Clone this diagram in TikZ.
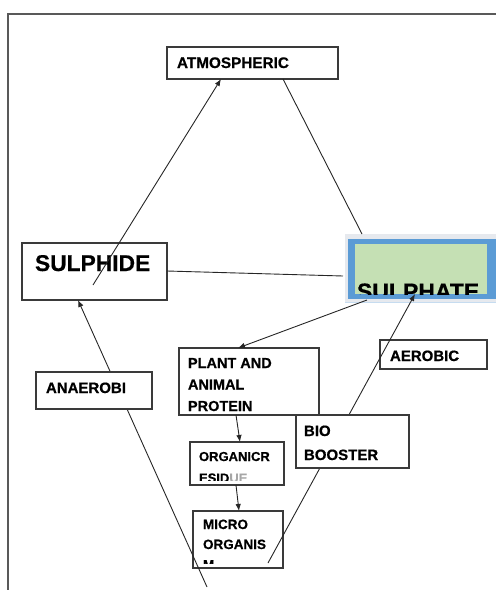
\documentclass[tikz,border=0pt]{standalone}
\usepackage{fontspec}
\setmainfont{Liberation Sans}[BoldFeatures={FakeBold=0.6}]
\usetikzlibrary{arrows.meta}
\definecolor{sblue}{HTML}{5B9BD5}
\definecolor{sgreen}{HTML}{C5E0B4}
\definecolor{sshade}{HTML}{E6E9EE}
\definecolor{boxline}{HTML}{3A3A3A}
\tikzset{
  box/.style={draw=boxline, line width=1.2pt, fill=white, anchor=north west, inner sep=0pt, outer sep=0pt},
  lbl/.style={anchor=base west, inner sep=0pt, outer sep=0pt},
  conn/.style={line width=0.9pt, draw=black!85},
  arr/.style={conn, -{Latex[length=7pt,width=5.5pt]}},
  frameline/.style={line width=1.1pt, draw=black!65}
}
\newcommand{\fs}[1]{\fontsize{#1}{#1}\selectfont\bfseries}
\begin{document}
\begin{tikzpicture}[x=1pt,y=-1pt]
\useasboundingbox (0,0) rectangle (496,590);
% outer frame
\draw[frameline] (496,14) -- (8,14) -- (8,590);

% ATMOSPHERIC
\node[box, minimum width=171pt, minimum height=32pt] (atmo) at (167,47) {};
\node[lbl, font=\fs{15.3}] (atmoT) at (177,68) {ATMOSPHERIC};

% SULPHIDE
\node[box, fill=none, minimum width=145pt, minimum height=57pt] (sulphide) at (22,243) {};
\node[lbl, font=\fs{22.8}] (sulphideT) at (35,271) {SULPHIDE};

% SULPHATE
\node[anchor=north west, fill=sshade, inner sep=0pt, minimum width=151pt, minimum height=69pt] (sulshade) at (345,234) {};
\node[anchor=north west, fill=sblue, inner sep=0pt, minimum width=149pt, minimum height=60pt] (sulphate) at (348,239) {};
\node[anchor=north west, fill=sgreen, inner sep=0pt, minimum width=132pt, minimum height=50pt] (sulgreen) at (355,244) {};
\begin{scope}
  \clip (355,244) rectangle (487,294);
  \node[lbl, font=\fs{23}] (sulphateT) at (357,299.5) {SULPHATE};
\end{scope}
\draw[line width=1pt, draw=sblue!35] (345,302) -- (496,302);

% PLANT AND ANIMAL PROTEIN
\node[box, minimum width=140pt, minimum height=67pt] (plant) at (179,348) {};
\node[lbl, font=\fs{14.5}] (plantA) at (188,368) {PLANT AND};
\node[lbl, font=\fs{14.5}] (plantB) at (188,389.5) {ANIMAL};
\node[lbl, font=\fs{14.5}] (plantC) at (188,411) {PROTEIN};

% AEROBIC
\node[box, fill=none, minimum width=107pt, minimum height=29pt] (aerobic) at (380,340) {};
\node[lbl, font=\fs{15}] (aerobicT) at (390,361) {AEROBIC};

% ORGANIC RESIDUE
\node[box, minimum width=94pt, minimum height=43pt] (organic) at (190,442) {};
\node[lbl, font=\fs{13}] (organicA) at (199,461) {ORGANICR};
\begin{scope}
  \clip (190,442) rectangle (284,480);
  \node[lbl, font=\fs{13}] (organicB) at (199,482.5) {ESID\textcolor{black!35}{UE}};
\end{scope}

% MICRO ORGANISM
\node[box, fill=none, minimum width=90pt, minimum height=57pt] (micro) at (193,511) {};
\node[lbl, font=\fs{13.5}] (microA) at (203,529) {MICRO};
\node[lbl, font=\fs{13.5}] (microB) at (203,549) {ORGANIS};
\begin{scope}
  \clip (193,511) rectangle (283,563.5);
  \node[lbl, font=\fs{13.5}] (microC) at (203,569.5) {M};
\end{scope}

% connector end points
\coordinate (sdIn) at (93,285);
\coordinate (atmoTip) at (221,79);
\coordinate (atmoOut) at (283,79);
\coordinate (sulTop) at (362,234);
\coordinate (sdRight) at (167,271);
\coordinate (sulLeft) at (343,276);
\coordinate (sulBot) at (367,300);
\coordinate (plantTop) at (238,348);
\coordinate (plantBot) at (236,415);
\coordinate (orgTop) at (240,442);
\coordinate (orgBot) at (236,485);
\coordinate (microTop) at (239,511);
\coordinate (lowEnd) at (207,587);
\coordinate (sdBot) at (78,300);
\coordinate (microIn) at (268,563);
\coordinate (sulArr) at (415,294);

% connectors
\draw[arr] (sdIn) -- (atmoTip);
\draw[conn] (atmoOut) -- (sulTop);
\draw[conn] (sdRight) -- (sulLeft);
\draw[arr] (sulBot) -- (plantTop);
\draw[arr] (plantBot) -- (orgTop);
\draw[arr] (orgBot) -- (microTop);
\draw[arr] (lowEnd) -- (sdBot);
\draw[arr] (microIn) -- (sulArr);

% boxes that cover the long lines
\node[box, minimum width=116pt, minimum height=37pt] (anaerobic) at (36,372) {};
\node[lbl, font=\fs{15}] (anaerobicT) at (46,393) {ANAEROBI};

\node[box, minimum width=113pt, minimum height=53pt] (bio) at (296,415) {};
\node[lbl, font=\fs{15}] (bioA) at (304,436) {BIO};
\node[lbl, font=\fs{15}] (bioB) at (304,460) {BOOSTER};
\end{tikzpicture}
\end{document}
